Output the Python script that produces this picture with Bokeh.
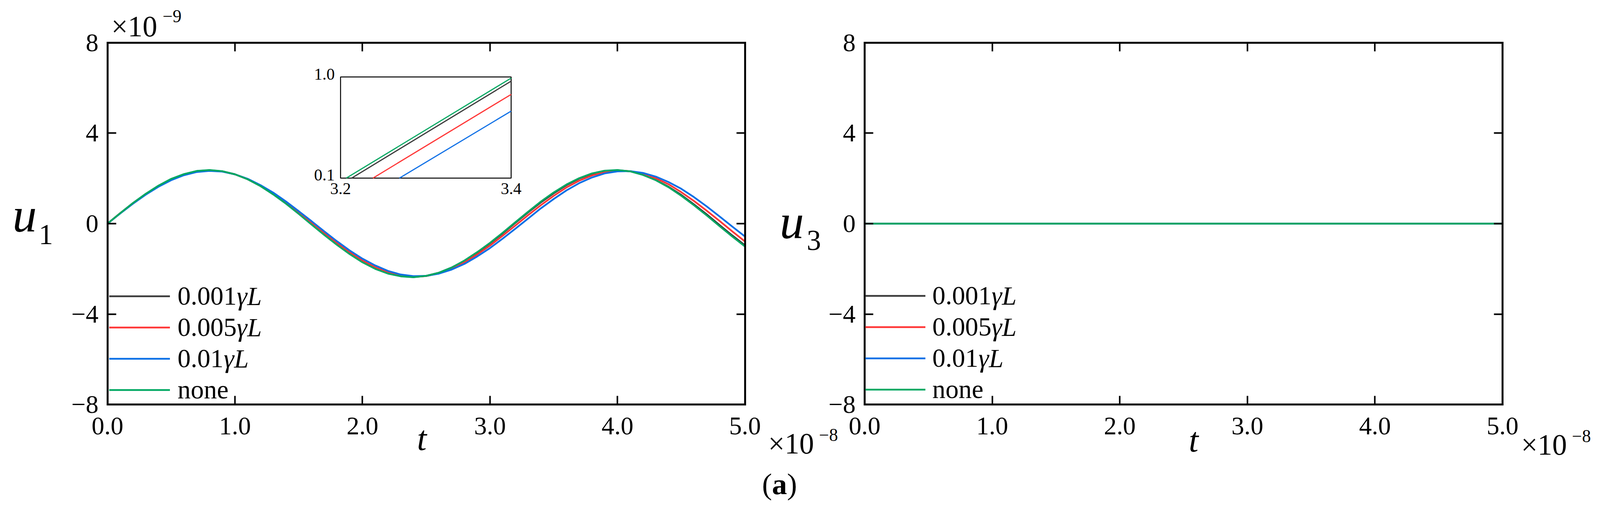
from bokeh.plotting import figure
from bokeh.models import (Range1d, FixedTicker, LinearAxis, Legend,
                          LegendItem, ColumnDataSource)
from bokeh.embed import file_html
from bokeh.resources import INLINE
from bokeh.core.properties import value

FONT = "Liberation Serif"

# ---------------- data (t in 1e-8, u in 1e-9) ----------------
t = [0.0, 0.1, 0.2, 0.3, 0.4, 0.5, 0.6, 0.7, 0.8, 0.9,
     1.0, 1.1, 1.2, 1.3, 1.4, 1.5, 1.6, 1.7, 1.8, 1.9,
     2.0, 2.1, 2.2, 2.3, 2.4, 2.5, 2.6, 2.7, 2.8, 2.9,
     3.0, 3.1, 3.2, 3.3, 3.4, 3.5, 3.6, 3.7, 3.8, 3.9,
     4.0, 4.1, 4.2, 4.3, 4.4, 4.5, 4.6, 4.7, 4.8, 4.9, 5.0]

u1_001 = [0.00, 0.46, 0.91, 1.31, 1.67, 1.97, 2.18, 2.32, 2.36, 2.31,
          2.18, 1.96, 1.66, 1.30, 0.89, 0.44, -0.02, -0.48, -0.92, -1.33,
          -1.68, -1.98, -2.19, -2.32, -2.36, -2.31, -2.17, -1.94, -1.65, -1.28,
          -0.87, -0.43, 0.04, 0.50, 0.94, 1.34, 1.70, 1.99, 2.20, 2.32,
          2.36, 2.31, 2.16, 1.93, 1.63, 1.27, 0.85, 0.41, -0.06, -0.52, -0.96]
u1_005 = [0.00, 0.46, 0.89, 1.30, 1.66, 1.95, 2.17, 2.30, 2.35, 2.31,
          2.18, 1.97, 1.68, 1.33, 0.93, 0.49, 0.04, -0.42, -0.86, -1.27,
          -1.63, -1.93, -2.15, -2.29, -2.35, -2.32, -2.19, -1.99, -1.71, -1.36,
          -0.97, -0.53, -0.08, 0.38, 0.82, 1.23, 1.60, 1.90, 2.13, 2.28,
          2.35, 2.32, 2.21, 2.01, 1.74, 1.39, 1.00, 0.57, 0.12, -0.34, -0.79]
u1_01 = [0.00, 0.45, 0.88, 1.28, 1.63, 1.92, 2.14, 2.28, 2.33, 2.30,
         2.18, 1.98, 1.70, 1.37, 0.98, 0.55, 0.11, -0.34, -0.78, -1.19,
         -1.55, -1.85, -2.09, -2.25, -2.32, -2.31, -2.21, -2.03, -1.78, -1.45,
         -1.08, -0.66, -0.22, 0.23, 0.68, 1.09, 1.47, 1.79, 2.04, 2.22,
         2.31, 2.32, 2.24, 2.08, 1.84, 1.54, 1.17, 0.76, 0.32, -0.13, -0.57]
u1_none = [0.00, 0.46, 0.91, 1.32, 1.68, 1.98, 2.19, 2.33, 2.37, 2.32,
           2.18, 1.96, 1.66, 1.29, 0.88, 0.43, -0.04, -0.50, -0.94, -1.35,
           -1.71, -2.00, -2.21, -2.33, -2.37, -2.31, -2.17, -1.94, -1.63, -1.26,
           -0.85, -0.40, 0.07, 0.53, 0.98, 1.38, 1.73, 2.01, 2.22, 2.34,
           2.37, 2.31, 2.15, 1.92, 1.61, 1.23, 0.81, 0.36, -0.11, -0.57, -1.01]

# inset (zoom of u1 for t in [3.2, 3.4])
ins_t_001 = [3.213, 3.4]
ins_u_001 = [0.10, 0.963]
ins_t_005 = [3.238, 3.4]
ins_u_005 = [0.10, 0.845]
ins_t_01 = [3.269, 3.4]
ins_u_01 = [0.10, 0.696]
ins_t_none = [3.2067, 3.4]
ins_u_none = [0.10, 0.99]

# u3 is zero for every case
t3 = [0.0, 5.0]
u3_001 = [0.0, 0.0]
u3_005 = [0.0, 0.0]
u3_01 = [0.0, 0.0]
u3_none = [0.0, 0.0]

legend_num = ["0.001", "0.005", "0.01", "none"]
legend_ital = ["γL", "γL", "γL", ""]
colors = ["#3a3a3a", "#ff3636", "#0a6fe6", "#00a862"]

x_ticks = [0, 1, 2, 3, 4, 5]
x_tick_labels = ["0.0", "1.0", "2.0", "3.0", "4.0", "5.0"]
y_ticks = [-8, -4, 0, 4, 8]
y_tick_labels = ["\u22128", "\u22124", "0", "4", "8"]
t_lim = (0, 5)
u_lim = (-8, 8)

ins_x = [3.2, 3.4]
ins_y = [0.1, 1.0]
ins_tick_x = ["3.2", "3.4"]
ins_tick_y = ["1.0", "0.1"]

# ---------------- layout (target-picture pixels) ----------------
REF_W, REF_H = 4140, 1321
H = 1305
K = REF_H / H                 # picture px per canvas px
W = int(round(REF_W / K))
F1L, F1R = 278, 1930          # left panel box
F2L, F2R = 2240, 3893         # right panel box
FT, FB = 110, 1048
SY = (FB - FT) / 16.0
Y0 = (FT + FB) / 2.0
SX1 = (F1R - F1L) / 5.0
SX2 = (F2R - F2L) / 5.0
LEG_FS = 68
TICK_FS = 66
LW = 4.5
MID = 0.3375                  # em offset from baseline to text middle


def s(v):
    return v / K


def fpx(v):
    return f"{v / K:.1f}px"


def dx(px):
    return (px - F1L) / SX1


def dy(py):
    return (Y0 - py) / SY


p = figure(width=W, height=H,
           x_range=Range1d(dx(0), dx(REF_W)),
           y_range=Range1d(dy(REF_H), dy(0)),
           output_backend="svg", toolbar_location=None,
           x_axis_location=None, y_axis_location=None,
           min_border=0, min_border_left=0, min_border_right=0,
           min_border_top=0, min_border_bottom=0,
           background_fill_color="white", border_fill_color="white")
p.extra_x_ranges = {"r": Range1d((0 - F2L) / SX2, (REF_W - F2L) / SX2)}
p.xgrid.visible = False
p.ygrid.visible = False
p.outline_line_color = None


def style_axis(ax, ticks, labs, shown, standoff):
    ax.ticker = FixedTicker(ticks=ticks)
    ax.axis_line_width = s(5)
    ax.axis_line_color = "black"
    ax.axis_line_cap = "square"
    ax.major_tick_line_width = s(4)
    ax.major_tick_line_color = "black"
    ax.major_tick_in = int(round(s(22)))
    ax.major_tick_out = 0
    ax.minor_tick_line_color = None
    ax.major_label_text_font = FONT
    ax.major_label_text_color = "black"
    if shown:
        ax.major_label_text_font_size = fpx(TICK_FS)
        ax.major_label_overrides = {k: v for k, v in zip(ticks, labs)}
        ax.major_label_standoff = int(round(s(standoff)))
    else:
        ax.major_label_text_font_size = "0px"
        ax.major_label_overrides = {k: "" for k in ticks}
        ax.major_label_standoff = 0


for rname in ["default", "r"]:
    bottom = LinearAxis(x_range_name=rname, fixed_location=u_lim[0], bounds=t_lim)
    top = LinearAxis(x_range_name=rname, fixed_location=u_lim[1], bounds=t_lim)
    left = LinearAxis(x_range_name=rname, fixed_location=t_lim[0], bounds=u_lim)
    right = LinearAxis(x_range_name=rname, fixed_location=t_lim[1], bounds=u_lim)
    style_axis(bottom, x_ticks, x_tick_labels, True, 33)
    style_axis(top, x_ticks, x_tick_labels, False, 0)
    style_axis(left, y_ticks, y_tick_labels, True, 23)
    style_axis(right, y_ticks, y_tick_labels, False, 0)
    p.add_layout(bottom, "below")
    p.add_layout(top, "above")
    p.add_layout(left, "left")
    p.add_layout(right, "right")


def add_text(px, py_base, text, size, style="normal", align="left"):
    """py_base: wanted baseline (picture px); drawn with a middle anchor."""
    p.text(x=[dx(px)], y=[dy(py_base - MID * size)], text=[text], text_font=value(FONT),
           text_font_size=value(fpx(size)), text_font_style=style,
           text_align=align, text_baseline="middle", text_color="black")


# ---------------- left panel: u1 ----------------
src1 = ColumnDataSource(dict(t=t, a=u1_001, b=u1_005, c=u1_01, d=u1_none))
rs1 = []
for col, c in zip(["a", "b", "c", "d"], colors):
    rs1.append(p.line("t", col, source=src1, line_color=c, line_width=s(LW)))

sub = p.subplot(x_source=Range1d(ins_x[0], ins_x[1]), y_source=Range1d(ins_y[0], ins_y[1]),
                x_target=Range1d(dx(882), dx(1324)), y_target=Range1d(dy(461), dy(199)))
sub.quad(left=[ins_x[0]], right=[ins_x[1]], bottom=[ins_y[0]], top=[ins_y[1]],
         fill_color="white", line_color="black", line_width=s(2.5))
for tx, uy, c in zip([ins_t_001, ins_t_005, ins_t_01, ins_t_none],
                     [ins_u_001, ins_u_005, ins_u_01, ins_u_none], colors):
    sub.line(tx, uy, line_color=c, line_width=s(3))
ipx = (ins_x[1] - ins_x[0]) / (1324 - 882)
ipy = (ins_y[1] - ins_y[0]) / (461 - 199)
sub.text(x=[ins_x[0] - 15 * ipx, ins_x[0] - 15 * ipx],
         y=[ins_y[1] + 7.5 * ipy, ins_y[0] + 8.5 * ipy],
         text=ins_tick_y, text_font=value(FONT), text_font_size=value(fpx(43)),
         text_align="right", text_baseline="middle", text_color="black")
sub.text(x=[ins_x[0], ins_x[1]], y=[ins_y[0] - 27.5 * ipy, ins_y[0] - 27.5 * ipy],
         text=ins_tick_x, text_font=value(FONT), text_font_size=value(fpx(43)),
         text_align="center", text_baseline="middle", text_color="black")

# ---------------- right panel: u3 ----------------
src2 = ColumnDataSource(dict(t=t3, a=u3_001, b=u3_005, c=u3_01, d=u3_none))
rs2 = []
for col, c in zip(["a", "b", "c", "d"], colors):
    rs2.append(p.line("t", col, source=src2, line_color=c, line_width=s(LW), x_range_name="r"))

# ---------------- legends ----------------
num_w = {"0.001": 2.25 * LEG_FS, "0.005": 2.25 * LEG_FS, "0.01": 1.75 * LEG_FS}
for rs, lx, lb, gw, st in [(rs1, F1L + 4, FB + 3, 158, 20), (rs2, F2L + 2, FB + 2, 156, 18)]:
    leg = Legend(items=[LegendItem(label=value(n), renderers=[r]) for n, r in zip(legend_num, rs)],
                 location=(s(lx), s(REF_H - lb)), glyph_width=int(round(s(gw))),
                 glyph_height=int(round(s(81))), label_height=int(round(s(81))),
                 label_standoff=int(round(s(st))), spacing=0, padding=0, margin=0,
                 label_text_font=FONT, label_text_font_size=fpx(LEG_FS),
                 label_text_color="black",
                 background_fill_alpha=0, border_line_color=None)
    p.add_layout(leg)
    eh = round(s(81)) * K
    for k, (n, it) in enumerate(zip(legend_num, legend_ital)):
        if it:
            cy = lb - 4 * eh + eh / 2 + eh * k
            p.text(x=[dx(lx + round(s(gw)) * K + round(s(st)) * K + num_w[n])], y=[dy(cy)],
                   text=[it], text_font=value(FONT), text_font_size=value(fpx(LEG_FS)),
                   text_font_style="italic", text_align="left", text_baseline="middle",
                   text_color="black")

# ---------------- axis titles, exponents, caption ----------------
add_text(32, 600, "u", 126, "italic")
add_text(100, 632, "1", 74)
add_text(1080, 1166, "t", 90, "italic")
add_text(288, 93, "\u00d710", 76)
add_text(421, 57, "\u22129", 46)
add_text(1990, 1175, "\u00d710", 76)
add_text(2122, 1142, "\u22128", 46)

add_text(2020, 617, "u", 126, "italic")
add_text(2090, 648, "3", 74)
add_text(3080, 1170, "t", 90, "italic")
add_text(3941, 1178, "\u00d710", 76)
add_text(4073, 1145, "\u22128", 46)

add_text(1974, 1280, "(", 78)
add_text(2000, 1280, "a", 78, "bold")
add_text(2039, 1280, ")", 78)

open("out.html", "w").write(file_html(p, INLINE))
